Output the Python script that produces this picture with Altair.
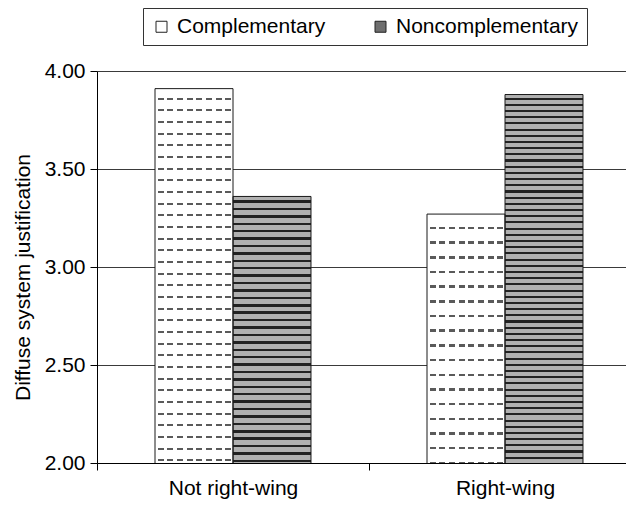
import math
import altair as alt
import pandas as pd

# ---- data ----
groups = ["Not right-wing", "Not right-wing", "Right-wing", "Right-wing"]
series = ["Complementary", "Noncomplementary", "Complementary", "Noncomplementary"]
values = [3.91, 3.36, 3.27, 3.88]
group_order = ["Not right-wing", "Right-wing"]
series_order = ["Complementary", "Noncomplementary"]
y_ticks = [2.0, 2.5, 3.0, 3.5, 4.0]
y_title = "Diffuse system justification"

df = pd.DataFrame({"group": groups, "series": series, "value": values})

# ---- layout / style ----
Y_MIN, Y_MAX = 2.0, 4.0
PAD_TOP = 63
PLOT_W, PLOT_H = 529, 392
BAND_RANGE = 544
PX_PER_UNIT = PLOT_H / (Y_MAX - Y_MIN)
SUB_W = 78
FONT = "Liberation Sans"
FS = 21


def stripe_stops(length, period, thick, line, bg, phase):
    stops = [alt.GradientStop(offset=0, color=bg)]
    s = phase
    while s < length:
        e = min(s + thick, length)
        a, b = s / length, e / length
        stops += [
            alt.GradientStop(offset=a, color=bg),
            alt.GradientStop(offset=a, color=line),
            alt.GradientStop(offset=b, color=line),
            alt.GradientStop(offset=b, color=bg),
        ]
        s += period
    stops.append(alt.GradientStop(offset=1, color=bg))
    return stops


x_enc = alt.X(
    "group:N",
    sort=group_order,
    title=None,
    scale=alt.Scale(range=[0, BAND_RANGE], paddingInner=0, paddingOuter=0),
    axis=alt.Axis(
        labelAngle=0, labelFont=FONT, labelFontSize=FS, labelColor="black",
        labelPadding=7, tickBand="extent", tickSize=7, tickColor="black",
        domainColor="black", grid=False,
    ),
)
xo_enc = alt.XOffset(
    "series:N", sort=series_order,
    scale=alt.Scale(paddingInner=0, paddingOuter=0.7436),
)
y_enc = alt.Y(
    "value:Q",
    scale=alt.Scale(domain=[Y_MIN, Y_MAX], zero=False, nice=False),
    axis=alt.Axis(
        values=y_ticks, format=".2f", title=y_title,
        titleFont=FONT, titleFontSize=FS, titleFontWeight="normal", titleColor="black",
        titleX=-64, titleY=206, titleAngle=270, titleBaseline="bottom", titleAlign="center",
        labelFont=FONT, labelFontSize=FS, labelColor="black", labelPadding=5,
        tickSize=7, tickColor="black", domainColor="black",
        grid=True, gridColor="#3a3a3a", gridWidth=1,
    ),
)

base = alt.Chart(df).mark_bar(clip=True).encode(
    x=x_enc, xOffset=xo_enc, y=y_enc,
    fill=alt.Fill(
        "series:N", title=None,
        scale=alt.Scale(domain=series_order, range=["#ffffff", "#6e6e6e"]),
        legend=alt.Legend(
            orient="none", legendX=46, legendY=-63, direction="horizontal",
            labelFont=FONT, labelFontSize=FS, labelColor="black", labelLimit=400,
            symbolType="square", symbolSize=121, symbolStrokeColor="#222222",
            symbolStrokeWidth=1, labelOffset=5, columnPadding=44, padding=8,
            strokeColor="#333333", fillColor="white", cornerRadius=0,
        ),
    ),
)

layers = [base]
for g, s, v in zip(groups, series, values):
    h = (v - Y_MIN) * PX_PER_UNIT
    top = PAD_TOP + (Y_MAX - v) * PX_PER_UNIT
    align = math.ceil(top) - top  # put stripe lines on whole pixels
    flt = (alt.datum.group == g) & (alt.datum.series == s)
    if s == "Complementary":
        rows = alt.LinearGradient(
            gradient="linear", x1=0, x2=0, y1=0, y2=1,
            stops=stripe_stops(h, 5.7, 1.0, "#5a5a5a", "#ffffff", align + 4),
        )
        dashes = alt.LinearGradient(
            gradient="linear", x1=0, x2=1, y1=0, y2=0,
            stops=stripe_stops(SUB_W, 9.7, 6.0, "rgba(255,255,255,0)", "#ffffff", 2.5),
        )
        layers.append(alt.Chart(df).transform_filter(flt).mark_bar(fill=rows, clip=True)
                      .encode(x=x_enc, xOffset=xo_enc, y=y_enc))
        layers.append(alt.Chart(df).transform_filter(flt).mark_bar(fill=dashes, clip=True)
                      .encode(x=x_enc, xOffset=xo_enc, y=y_enc))
    else:
        rows = alt.LinearGradient(
            gradient="linear", x1=0, x2=0, y1=0, y2=1,
            stops=stripe_stops(h, 3.0, 1.0, "#222222", "#b0b0b0", align + 1),
        )
        layers.append(alt.Chart(df).transform_filter(flt).mark_bar(fill=rows, clip=True)
                      .encode(x=x_enc, xOffset=xo_enc, y=y_enc))

outline = alt.Chart(df).mark_bar(
    fill="white", fillOpacity=0, stroke="#1a1a1a", strokeWidth=1, clip=True
).encode(x=x_enc, xOffset=xo_enc, y=y_enc)
layers.append(outline)

chart = alt.layer(*layers).properties(
    width=PLOT_W, height=PLOT_H,
    autosize=alt.AutoSizeParams(type="none"),
    padding={"left": 89, "top": PAD_TOP, "right": 0, "bottom": 36},
    background="white",
).configure_view(stroke="transparent")

chart.save("out.html", embed_options={"renderer": "svg", "actions": False})
